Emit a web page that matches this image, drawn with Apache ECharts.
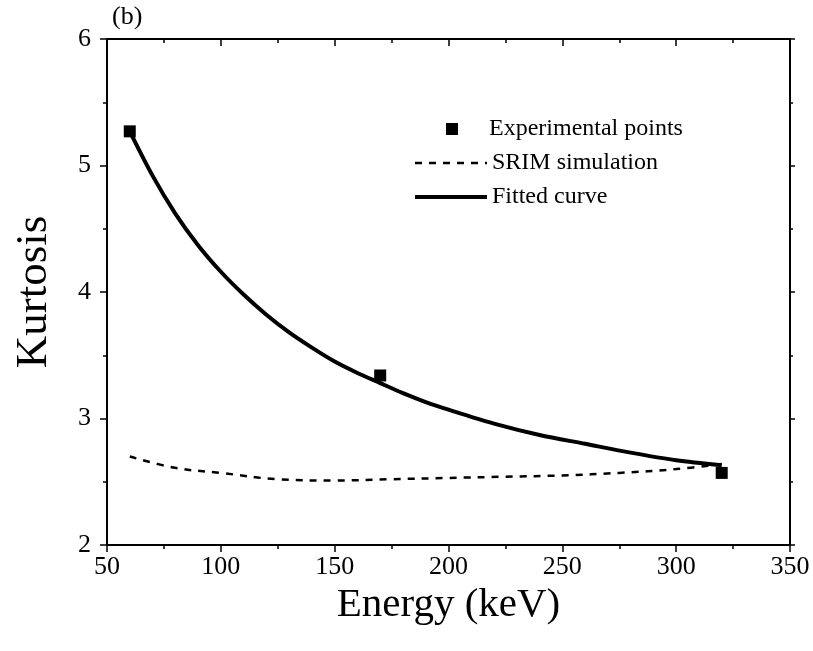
<!DOCTYPE html>
<html>
<head>
<meta charset="utf-8">
<script src="https://cdn.jsdelivr.net/npm/echarts@6/dist/echarts.min.js"></script>
<style>html,body{margin:0;padding:0;background:#fff}#c{width:813px;height:651px}</style>
</head>
<body>
<div id="c"></div>
<script>
var expEnergy = [60, 170, 320];
var expKurtosis = [5.27, 3.34, 2.57];

var srimEnergy = [60, 80, 100, 125, 150, 175, 200, 225, 250, 275, 300, 320];
var srimKurtosis = [2.70, 2.61, 2.57, 2.52, 2.51, 2.52, 2.53, 2.54, 2.55, 2.57, 2.60, 2.64];

var fitEnergy = [60, 70, 80, 90, 100, 110, 120, 130, 140, 150, 160, 170, 180, 190, 200, 220, 240, 260, 280, 300, 320];
var fitKurtosis = [5.27, 4.92, 4.62, 4.37, 4.16, 3.98, 3.82, 3.68, 3.56, 3.45, 3.36, 3.28, 3.20, 3.13, 3.07, 2.96, 2.87, 2.80, 2.73, 2.67, 2.63];

var xTicks = [50, 100, 150, 200, 250, 300, 350];
var yTicks = [2, 3, 4, 5, 6];

function pairs(xs, ys) { return xs.map(function (x, i) { return [x, ys[i]]; }); }

var FONT = '"Liberation Serif", "Times New Roman", serif';
var chart = echarts.init(document.getElementById('c'), null, { renderer: 'canvas' });

var axisLine = { show: true, lineStyle: { color: '#000', width: 2 } };
var legendText = { fontFamily: FONT, fontSize: 24, color: '#000', lineHeight: 24 };
chart.setOption({
  backgroundColor: '#fff',
  animation: false,
  textStyle: { fontFamily: FONT, color: '#000' },
  graphic: [{ type: 'text', left: 112, top: 4, style: { text: '(b)', font: '26px ' + FONT, fill: '#000' } }],
  grid: { left: 107, right: 23, top: 39, bottom: 106 },
  legend: [{
    orient: 'vertical', left: 441, top: 112,
    itemWidth: 12, itemHeight: 12,
    textStyle: Object.assign({ padding: [0, 0, 0, 26] }, legendText),
    data: ['Experimental points']
  }, {
    orient: 'vertical', left: 408, top: 146,
    itemWidth: 72, itemHeight: 14, itemGap: 10,
    itemStyle: { opacity: 0 },
    textStyle: legendText,
    data: [
      { name: 'SRIM simulation', lineStyle: { width: 2.5, type: [7, 7] } },
      { name: 'Fitted curve', lineStyle: { width: 4 } }
    ]
  }],
  xAxis: [{
    type: 'value', min: xTicks[0], max: xTicks[xTicks.length - 1], interval: 50,
    name: 'Energy (keV)', nameLocation: 'middle', nameGap: 35,
    nameTextStyle: { fontFamily: FONT, fontSize: 41, color: '#000' },
    axisLine: axisLine,
    axisTick: { show: true, inside: false, length: 7, lineStyle: { color: '#000', width: 1.5 } },
    minorTick: { show: true, splitNumber: 2, length: 4, lineStyle: { color: '#000', width: 1.5 } },
    axisLabel: { fontFamily: FONT, fontSize: 26, color: '#000', margin: 9 },
    splitLine: { show: false }
  }, {
    type: 'value', position: 'top', min: xTicks[0], max: xTicks[xTicks.length - 1], interval: 50,
    axisLine: axisLine,
    axisTick: { show: true, inside: true, length: 7, lineStyle: { color: '#000', width: 1.5 } },
    minorTick: { show: true, splitNumber: 2, length: 4, lineStyle: { color: '#000', width: 1.5 } },
    axisLabel: { show: false }, splitLine: { show: false }
  }],
  yAxis: [{
    type: 'value', min: yTicks[0], max: yTicks[yTicks.length - 1], interval: 1,
    name: 'Kurtosis', nameLocation: 'middle', nameGap: 50, nameRotate: 90,
    nameTextStyle: { fontFamily: FONT, fontSize: 45, color: '#000' },
    axisLine: axisLine,
    axisTick: { show: true, inside: false, length: 7, lineStyle: { color: '#000', width: 1.5 } },
    minorTick: { show: true, splitNumber: 2, length: 4, lineStyle: { color: '#000', width: 1.5 } },
    axisLabel: { fontFamily: FONT, fontSize: 26, color: '#000', margin: 16 },
    splitLine: { show: false }
  }, {
    type: 'value', position: 'right', min: yTicks[0], max: yTicks[yTicks.length - 1], interval: 1,
    axisLine: axisLine,
    axisTick: { show: true, inside: false, length: 5, lineStyle: { color: '#000', width: 1.5 } },
    minorTick: { show: true, splitNumber: 2, length: 3, lineStyle: { color: '#000', width: 1.5 } },
    axisLabel: { show: false }, splitLine: { show: false }
  }],
  series: [{
    name: 'Experimental points', type: 'scatter', symbol: 'rect', symbolSize: 12, z: 5,
    itemStyle: { color: '#000', opacity: 1 },
    data: pairs(expEnergy, expKurtosis)
  }, {
    name: 'SRIM simulation', type: 'line', smooth: 0.4, showSymbol: false, symbol: 'none',
    lineStyle: { color: '#000', width: 2.5, type: [7, 7] }, itemStyle: { color: '#000' },
    data: pairs(srimEnergy, srimKurtosis)
  }, {
    name: 'Fitted curve', type: 'line', smooth: 0.3, showSymbol: false, symbol: 'none',
    lineStyle: { color: '#000', width: 4 }, itemStyle: { color: '#000' },
    data: pairs(fitEnergy, fitKurtosis)
  }]
});
</script>
</body>
</html>
